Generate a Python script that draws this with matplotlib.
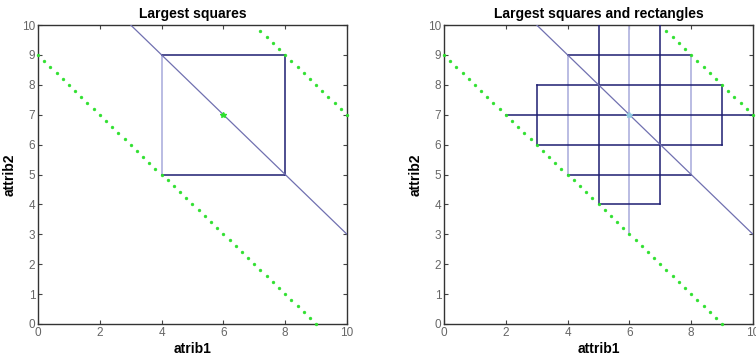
import numpy as np
import matplotlib
matplotlib.use("Agg")
import matplotlib.pyplot as plt

plt.rcParams['font.family'] = ['Liberation Sans', 'DejaVu Sans']

# data
lower_x = np.round(np.arange(0, 9.01, 0.2), 2)      # points on x+y=9
lower_y = 9 - lower_x
upper_x = np.round(np.arange(7.2, 10.01, 0.2), 2)   # points on x+y=17
upper_y = 17 - upper_x
diag_x = [3, 10]
diag_y = [10, 3]
center = (6, 7)

# left: square segments (x0, y0, x1, y1, light?)
left_segments = [
    (4, 5, 4, 9, True),
    (4, 9, 8, 9, False),
    (8, 9, 8, 5, False),
    (8, 5, 4, 5, False),
]
# right: squares and rectangles segments
right_segments = [
    (4, 5, 4, 9, True),
    (6, 3, 6, 10, True),
    (8, 5, 8, 9, True),
    (5, 4, 5, 10, False),
    (7, 4, 7, 10, False),
    (3, 6, 3, 8, False),
    (9, 6, 9, 8, False),
    (4, 9, 8, 9, False),
    (3, 8, 9, 8, False),
    (2, 7, 10, 7, False),
    (3, 6, 9, 6, False),
    (4, 5, 8, 5, False),
    (5, 4, 7, 4, False),
]

titles = ["Largest squares", "Largest squares and rectangles"]
xlabels = ["atrib1", "attrib1"]
ylabel = "attrib2"
ticks = [0, 2, 4, 6, 8, 10]
yticks = list(range(0, 11))

fig = plt.figure(figsize=(7.56, 3.58), dpi=100)
positions = [[38/756, 34/358, 309/756, 299/358], [444/756, 34/358, 309/756, 299/358]]
navy = '#1e1e72'
light = '#b4b6e0'
diagc = '#7070b0'
green = '#2ee02e'

for i, segs in enumerate([left_segments, right_segments]):
    ax = fig.add_axes(positions[i])
    ax.set_xlim(0, 10)
    ax.set_ylim(0, 10)
    for (x0, y0, x1, y1, lt) in segs:
        ax.plot([x0, x1], [y0, y1], color=light if lt else navy,
                lw=1.3 if lt else 1.1, zorder=2 if lt else 3)
    ax.plot(diag_x, diag_y, color=diagc, lw=0.9, zorder=4)
    ax.plot(lower_x, lower_y, linestyle='none', marker='o', ms=2.1,
            color=green, mec=green, mew=0.3, clip_on=False, zorder=5)
    ax.plot(upper_x, upper_y, linestyle='none', marker='o', ms=2.1,
            color=green, mec=green, mew=0.3, clip_on=False, zorder=5)
    ax.plot([center[0]], [center[1]], linestyle='none', marker='*', ms=4,
            color=green if i == 0 else '#8fc8e0', zorder=5)
    ax.set_xticks(ticks)
    ax.set_yticks(yticks)
    ax.tick_params(direction='in', top=True, right=True, length=3,
                   labelsize=8.5, labelcolor='#666666', color='#444444', pad=2)
    for s in ax.spines.values():
        s.set_color('#333333')
        s.set_linewidth(1.0)
    ax.set_title(titles[i], fontsize=10, fontweight='bold', pad=5)
    ax.set_xlabel(xlabels[i], fontsize=10, fontweight='bold', labelpad=2)
    ax.set_ylabel(ylabel, fontsize=10, fontweight='bold', labelpad=4)

fig.savefig("out.png", dpi=100)
